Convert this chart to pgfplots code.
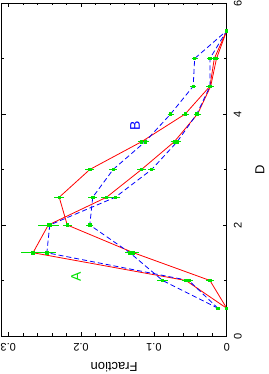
\documentclass[border=0pt]{standalone}
\usepackage{fontspec}
\setmainfont{Liberation Sans}
\usepackage{pgfplots}
\usepackage{pgfplotstable}
\pgfplotsset{compat=1.18}
\definecolor{rred}{RGB}{255,0,0}
\definecolor{rblue}{RGB}{0,0,255}
\definecolor{rgreen}{RGB}{0,225,0}
\pgfplotstableread{
f d e
0 0.5 0
0.023 1.0 0.003
0.128 1.5 0.005
0.219 2.0 0.004
0.230 2.5 0.005
0.188 3.0 0.004
0.117 3.5 0.003
0.057 4.0 0.003
0.023 4.5 0.003
0.017 5.0 0.002
0 5.5 0
}\redone
\pgfplotstableread{
f d e
0 0.5 0
0.056 1.0 0.004
0.266 1.5 0.014
0.245 2.0 0.012
0.165 2.5 0.005
0.117 3.0 0.004
0.072 3.5 0.003
0.040 4.0 0.003
0.022 4.5 0.002
0.014 5.0 0.002
0 5.5 0
}\redtwo
\pgfplotstableread{
f d e
0.012 0.5 0.001
0.052 1.0 0.004
0.247 1.5 0.010
0.243 2.0 0.010
0.153 2.5 0.005
0.103 3.0 0.003
0.068 3.5 0.003
0.041 4.0 0.002
0.023 4.5 0.002
0.023 5.0 0.002
0 5.5 0
}\blueone
\pgfplotstableread{
f d e
0.012 0.5 0.001
0.088 1.0 0.005
0.133 1.5 0.004
0.188 2.0 0.003
0.184 2.5 0.004
0.156 3.0 0.003
0.112 3.5 0.003
0.077 4.0 0.002
0.046 4.5 0.002
0.044 5.0 0.002
0 5.5 0
}\bluetwo
\begin{document}
\begin{tikzpicture}
\useasboundingbox (-1.7pt,-38pt) rectangle (266.3pt,336pt);
\begin{axis}[
  scale only axis, width=225pt, height=333pt,
  at={(0pt,0pt)}, anchor=south west,
  xmin=0, xmax=0.309, ymin=0, ymax=6,
  x dir=reverse,
  xtick={0,0.1,0.2,0.3}, xticklabels={0,0.1,0.2,0.3},
  minor x tick num=4,
  ytick={0,2,4,6}, yticklabels={0,2,4,6}, minor y tick num=1,
  tick align=inside,
  major tick length=4pt, minor tick length=2.5pt,
  tick style={black, line width=0.6pt},
  axis line style={black, line width=0.8pt},
  xticklabel pos=left, yticklabel pos=right,
  xticklabel style={rotate=180, anchor=south, inner ysep=7pt, font=\fontsize{11}{13}\selectfont},
  yticklabel style={rotate=90, anchor=north, inner ysep=7pt, font=\fontsize{11}{13}\selectfont},
  every axis x label/.style={at={(axis description cs:0.5,-0.0781)}, rotate=180, anchor=base, font=\fontsize{13}{15}\selectfont},
  every axis y label/.style={at={(axis description cs:1.168,0.5)}, rotate=90, anchor=base, font=\fontsize{13}{15}\selectfont},
  xlabel={Fraction}, ylabel={D},
  clip=false,
  error bars/x dir=both, error bars/x explicit,
  error bars/error bar style={rgreen, line width=0.8pt, solid},
  error bars/error mark options={rgreen, mark size=1.5pt, line width=0.8pt, solid},
]
\addplot[rred, line width=0.8pt, mark=square*, mark size=1.2pt, mark options={fill=rgreen, draw=rgreen, solid}]
  table[x=f, y=d, x error=e] {\redone};
\addplot[rred, line width=0.8pt, mark=square*, mark size=1.2pt, mark options={fill=rgreen, draw=rgreen, solid}]
  table[x=f, y=d, x error=e] {\redtwo};
\addplot[rblue, line width=0.8pt, dash pattern=on 5pt off 3pt, mark=square*, mark size=1.2pt, mark options={fill=rgreen, draw=rgreen, solid}]
  table[x=f, y=d, x error=e] {\blueone};
\addplot[rblue, line width=0.8pt, dash pattern=on 5pt off 3pt, mark=square*, mark size=1.2pt, mark options={fill=rgreen, draw=rgreen, solid}]
  table[x=f, y=d, x error=e] {\bluetwo};
\node[rotate=90, text=rgreen, font=\fontsize{14}{16}\selectfont] at (axis cs:0.207,1.06) {A};
\node[rotate=90, text=rblue, font=\fontsize{14}{16}\selectfont] at (axis cs:0.126,3.78) {B};
\end{axis}
\end{tikzpicture}
\end{document}
